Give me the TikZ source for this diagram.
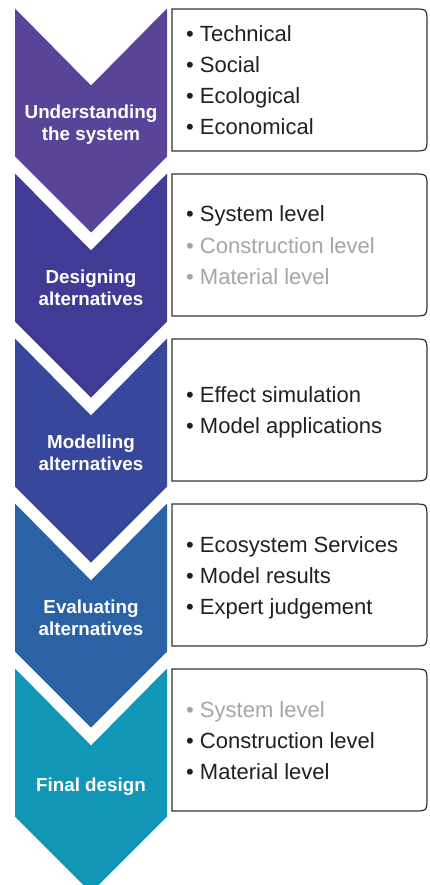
\documentclass[tikz,border=0pt]{standalone}
\usepackage{fontspec}
\setmainfont{Liberation Sans}
\definecolor{cA}{HTML}{5A4499}
\definecolor{cB}{HTML}{423B95}
\definecolor{cC}{HTML}{37479C}
\definecolor{cD}{HTML}{2A62A5}
\definecolor{cE}{HTML}{1196B6}
\definecolor{dk}{HTML}{231F20}
\definecolor{lt}{HTML}{A3A5A8}
\definecolor{bx}{HTML}{333333}
\begin{document}
\begin{tikzpicture}[x=1pt,y=-1pt,
  lab/.style={anchor=base, inner sep=0, text=white, font=\bfseries\fontsize{18.8}{22}\selectfont},
  item/.style={anchor=base west, inner sep=0, font=\fontsize{22}{31}\selectfont, text=dk},
  dim/.style={text=lt},
  boxline/.style={draw=bx, line width=1.2pt}]
\useasboundingbox (0,0) rectangle (429,885);
\begin{scope}
\clip (0,0) rectangle (429,885);
\foreach \i/\c in {0/cA,1/cB,2/cC,3/cD,4/cE} {
  \pgfmathsetmacro\t{8.5+165*\i}
  \fill[\c] (15,\t) -- (91,\t+77) -- (167,\t) -- (167,\t+148) -- (91,\t+224) -- (15,\t+148) -- cycle;
}
\end{scope}
\foreach \i in {0,...,4} {
  \pgfmathsetmacro\t{9+165*\i}
  \pgfmathsetmacro\b{\t+142}
  \draw[boxline] (172,\t) -- (413,\t) .. controls (427,\t) .. (427,\t+14) -- (427,\b-14) .. controls (427,\b) .. (413,\b) -- (172,\b) -- cycle;
}
% chevron labels
\node[lab] (l1a) at (91,118.2) {Understanding};
\node[lab] (l1b) at (91,140.2) {the system};
\node[lab] (l2a) at (91,283.2) {Designing};
\node[lab] (l2b) at (91,305.2) {alternatives};
\node[lab] (l3a) at (91,448.2) {Modelling};
\node[lab] (l3b) at (91,470.2) {alternatives};
\node[lab] (l4a) at (91,613.2) {Evaluating};
\node[lab] (l4b) at (91,635.2) {alternatives};
\node[lab] (l5a) at (91,791.2) {Final design};
% box 1
\node[item] (t11) at (186,41.5) {• Technical};
\node[item] (t12) at (186,72.5) {• Social};
\node[item] (t13) at (186,103.5) {• Ecological};
\node[item] (t14) at (186,134.5) {• Economical};
% box 2
\node[item] (t21) at (186,222) {• System level};
\node[item,dim] (t22) at (186,253) {• Construction level};
\node[item,dim] (t23) at (186,284) {• Material level};
% box 3
\node[item] (t31) at (186,402.5) {• Effect simulation};
\node[item] (t32) at (186,433.5) {• Model applications};
% box 4
\node[item] (t41) at (186,552) {• Ecosystem Services};
\node[item] (t42) at (186,583) {• Model results};
\node[item] (t43) at (186,614) {• Expert judgement};
% box 5
\node[item,dim] (t51) at (186,717) {• System level};
\node[item] (t52) at (186,748) {• Construction level};
\node[item] (t53) at (186,779) {• Material level};
\end{tikzpicture}
\end{document}
